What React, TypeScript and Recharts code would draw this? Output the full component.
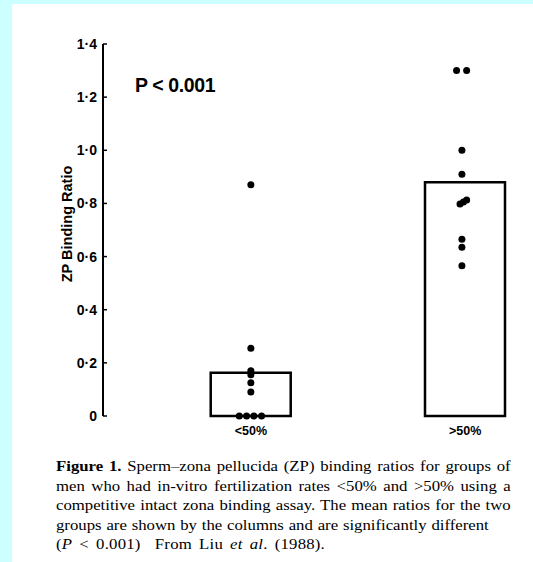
import { ComposedChart, Bar, Scatter, XAxis, YAxis } from 'recharts';

// groups (x position 1 and 2 on a numeric axis)
const groupLabels = ['<50%', '>50%'];
const groupMeans = [0.163, 0.88];

// individual binding ratios, with a small horizontal spread within each group
const lowRatios = [0.87, 0.255, 0.17, 0.155, 0.125, 0.09, 0, 0, 0, 0];
const lowSpread = [0, 0, 0, 0, 0, 0, -0.054, -0.02, 0.014, 0.05];
const highRatios = [1.3, 1.3, 1.0, 0.91, 0.813, 0.805, 0.798, 0.665, 0.635, 0.565];
const highSpread = [-0.04, 0.007, -0.015, -0.015, 0.007, -0.008, -0.024, -0.015, -0.015, -0.015];

const yTicks = [0, 0.2, 0.4, 0.6, 0.8, 1.0, 1.2, 1.4];
const xDomain = [0.31, 2.27];

const captionLines = [
  'Sperm\u2013zona pellucida (ZP) binding ratios for groups of',
  'men who had in-vitro fertilization rates <50% and >50% using a',
  'competitive intact zona binding assay. The mean ratios for the two',
  'groups are shown by the columns and are significantly different',
];

const barData = groupMeans.map((v, i) => ({ x: i + 1, v }));
const dotData = [
  ...lowRatios.map((v, i) => ({ x: 1 + lowSpread[i], v })),
  ...highRatios.map((v, i) => ({ x: 2 + highSpread[i], v })),
];

const fmtY = (v: number) => (v === 0 ? '0' : v.toFixed(1).replace('.', '\u00b7'));

const Dot = (props: any) => <circle cx={props.cx} cy={props.cy} r={3.5} fill="#000" />;

export default function App() {
  const sans = '"Liberation Sans", Arial, sans-serif';
  return (
    <div
      style={{
        position: 'absolute',
        left: 0,
        top: 0,
        width: 533,
        height: 562,
        background: '#ccffff',
        overflow: 'hidden',
      }}
    >
      <div style={{ position: 'absolute', left: 12, top: 4, width: 521, height: 558, background: '#fff' }} />
      <div style={{ position: 'absolute', left: 0, top: 0 }}>
        <ComposedChart
          width={533}
          height={470}
          data={barData}
          margin={{ top: 44, right: 10, bottom: 24, left: 43 }}
        >
          <XAxis
            dataKey="x"
            type="number"
            domain={xDomain}
            ticks={[1, 2]}
            tickFormatter={(v: number) => groupLabels[v - 1]}
            axisLine={false}
            tickLine={false}
            tickMargin={4}
            height={30}
            tick={{ fontSize: 12.5, fontWeight: 700, fill: '#000', fontFamily: sans }}
          />
          <XAxis xAxisId="bars" dataKey="x" type="number" domain={xDomain} hide />
          <YAxis
            dataKey="v"
            type="number"
            domain={[0, 1.4]}
            ticks={yTicks}
            tickFormatter={fmtY}
            width={60}
            tickSize={-4}
            tickMargin={10}
            axisLine={{ stroke: '#000', strokeWidth: 2 }}
            tickLine={{ stroke: '#000', strokeWidth: 1.5 }}
            tick={{ fontSize: 14, fontWeight: 700, fill: '#000', fontFamily: sans }}
            label={{
              content: (p: any) => {
                const cx = p.viewBox.x + 24;
                const cy = p.viewBox.y + p.viewBox.height / 2 - 6;
                return (
                  <text
                    x={cx}
                    y={cy}
                    transform={`rotate(-90 ${cx} ${cy})`}
                    textAnchor="middle"
                    dominantBaseline="central"
                    fontSize={14.5}
                    fontWeight={700}
                    fontFamily={sans}
                    fill="#000"
                  >
                    ZP Binding Ratio
                  </text>
                );
              },
            }}
          />
          <Bar
            xAxisId="bars"
            dataKey="v"
            barSize={80}
            fill="#fff"
            stroke="#000"
            strokeWidth={2.5}
            isAnimationActive={false}
          />
          <Scatter data={dotData} dataKey="v" shape={Dot} isAnimationActive={false} />
        </ComposedChart>
      </div>
      <div
        style={{
          position: 'absolute',
          left: 135,
          top: 75,
          fontFamily: sans,
          fontWeight: 700,
          fontSize: 19.5,
          lineHeight: '20px',
          letterSpacing: -0.4,
          color: '#000',
          whiteSpace: 'nowrap',
        }}
      >
        P &lt; 0.001
      </div>
      <div
        style={{
          position: 'absolute',
          left: 56,
          top: 456,
          width: 421,
          transform: 'scaleX(1.08)',
          transformOrigin: 'left top',
          fontFamily: '"Liberation Serif", "Times New Roman", serif',
          fontSize: 15.5,
          lineHeight: '19.6px',
          color: '#000',
        }}
      >
        {captionLines.map((line, i) => (
          <div
            key={i}
            style={{
              whiteSpace: 'nowrap',
              textAlign: 'justify',
              textAlignLast: i < 3 ? 'justify' : 'left',
              wordSpacing: i === 3 ? 0.6 : 0,
            }}
          >
            {i === 0 && <b>Figure 1. </b>}
            {line}
          </div>
        ))}
        <div style={{ whiteSpace: 'pre', letterSpacing: 0.2, wordSpacing: 2.5 }}>
          (<i>P</i> &lt; 0.001)  From Liu <i>et al</i>. (1988).
        </div>
      </div>
    </div>
  );
}
